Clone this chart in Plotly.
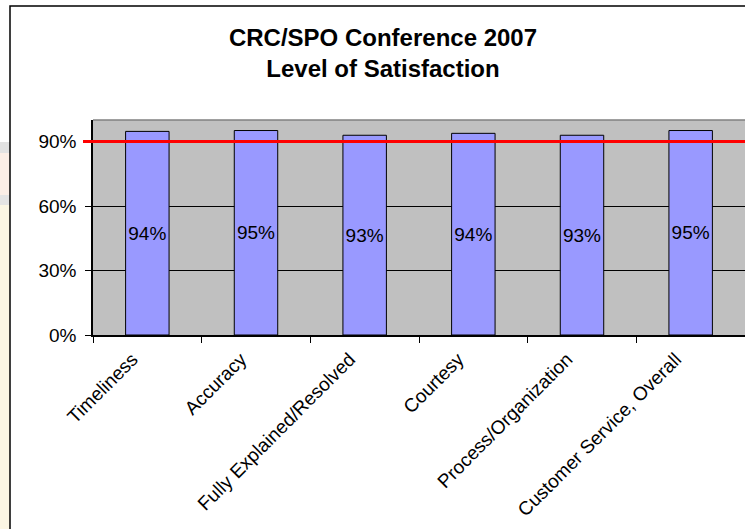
import plotly.graph_objects as go

categories = ["Timeliness", "Accuracy", "Fully Explained/Resolved", "Courtesy",
              "Process/Organization", "Customer Service, Overall"]
satisfaction = [0.947, 0.951, 0.929, 0.938, 0.929, 0.951]
bar_labels = ["94%", "95%", "93%", "94%", "93%", "95%"]
target_level = 0.90
y_ticks = [0, 0.3, 0.6, 0.9]
y_tick_text = ["0%", "30%", "60%", "90%"]
title_lines = ["CRC/SPO Conference 2007", "Level of Satisfaction"]

W, H = 745, 529
ML, MR, MT, MB = 93, 0, 120, 194
PW, PH = W - ML - MR, H - MT - MB

def px_x(px):
    return (px - ML) / PW

def px_y(py):
    return (H - MB - py) / PH

FONT = "Liberation Sans, Arial, sans-serif"

fig = go.Figure()
fig.add_trace(go.Bar(
    x=categories, y=satisfaction, text=bar_labels,
    textposition="inside", insidetextanchor="middle", textangle=0,
    constraintext="none",
    textfont=dict(family=FONT, size=19, color="black"),
    marker=dict(color="#9999ff", line=dict(color="black", width=1)),
    hoverinfo="skip",
))

# left slide background strip (pale bands)
strip = [(142, 153, "#e2e2e2"), (153, 195, "#fbeee6"), (195, 205, "#e4e4e4"),
         (205, 545, "#fbf6e4")]
shapes = []
for top, bottom, col in strip:
    shapes.append(dict(type="rect", xref="paper", yref="paper",
                       x0=px_x(-2), x1=px_x(10), y0=px_y(bottom), y1=px_y(top),
                       fillcolor=col, line_width=0, layer="below"))
shapes += [
    # chart frame
    dict(type="rect", xref="paper", yref="paper", x0=px_x(10), x1=px_x(760),
         y0=px_y(545), y1=px_y(6), fillcolor="rgba(0,0,0,0)",
         line=dict(color="black", width=1.5), layer="below"),
    # plot area top border
    dict(type="line", xref="paper", yref="paper", x0=0, x1=1.01, y0=1, y1=1,
         line=dict(color="#808080", width=1.5), layer="below"),
    # target line
    dict(type="line", xref="paper", yref="y", x0=px_x(83), x1=1.01,
         y0=target_level, y1=target_level, line=dict(color="#ff0000", width=3),
         layer="above"),
]

fig.update_layout(
    width=W, height=H,
    margin=dict(l=ML, r=MR, t=MT, b=MB, pad=0),
    paper_bgcolor="white", plot_bgcolor="#c0c0c0",
    bargap=0.6, showlegend=False,
    font=dict(family=FONT, color="black"),
    title=dict(text="<b>" + "<br>".join(title_lines) + "</b>",
               x=383 / W, xref="container", xanchor="center",
               y=1 - 46 / H, yref="container", yanchor="top",
               font=dict(family=FONT, size=24, color="black")),
    shapes=shapes,
)
fig.update_xaxes(
    type="category", tickangle=-45, tickson="boundaries",
    ticks="outside", ticklen=6, tickcolor="black", tickwidth=1,
    showline=True, linecolor="black", linewidth=1.5, showgrid=False,
    ticklabelshift=-15, ticklabelstandoff=4,
    tickfont=dict(family=FONT, size=19, color="black"),
)
fig.update_yaxes(
    range=[0, 1], tickvals=y_ticks, ticktext=y_tick_text,
    ticks="outside", ticklen=6, tickcolor="black", tickwidth=1,
    showline=True, linecolor="black", linewidth=1.5,
    showgrid=True, gridcolor="black", gridwidth=1, zeroline=False,
    ticklabelstandoff=5,
    tickfont=dict(family=FONT, size=19, color="black"),
)

fig.write_html("out.html")
